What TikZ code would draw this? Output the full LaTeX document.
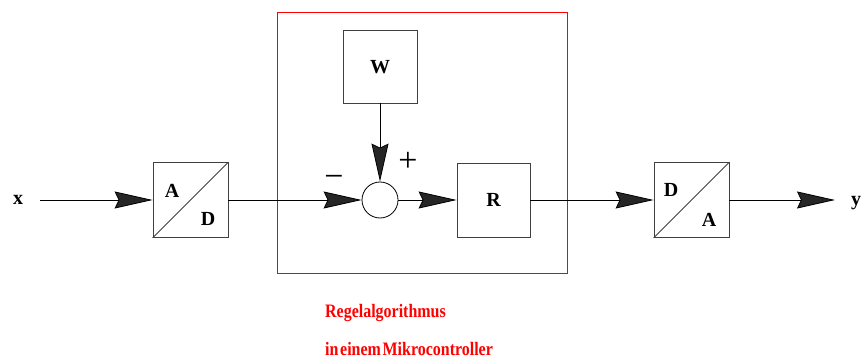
\documentclass[tikz,border=0pt]{standalone}
\usepackage{fontspec}
\setmainfont{Liberation Serif}
\usetikzlibrary{arrows.meta}
\begin{document}
\begin{tikzpicture}[x=1pt,y=-1pt,
  blk/.style={draw=black!75, line width=0.8pt, minimum width=75pt, minimum height=75pt, inner sep=0pt},
  sumpt/.style={circle, draw=black, line width=0.8pt, minimum size=36pt, inner sep=0pt},
  lbl/.style={font=\fontsize{20}{20}\selectfont\bfseries, inner sep=0pt},
  sgn/.style={font=\fontsize{34}{34}\selectfont, inner sep=0pt},
  wire/.style={line width=0.8pt, draw=black},
  arr/.style={wire, -{Stealth[length=38pt,width=17pt,inset=4pt,fill=black!85]}},
  note/.style={text=red, font=\fontsize{19}{19}\selectfont\bfseries, inner sep=0pt, anchor=base west}]
\useasboundingbox (0,0) rectangle (861,358);

% controller frame
\node[draw=red, line width=0.8pt, minimum width=290pt, minimum height=261pt, inner sep=0pt] (mc) at (422,142.5) {};

% blocks
\node[blk] (ad) at (190.5,200) {};
\draw[wire, draw=black!75] (ad.south west) -- (ad.north east);
\node[lbl] (adA) at (172,191) {A};
\node[lbl] (adD) at (208,219) {D};

\node[blk, minimum width=74pt, minimum height=73pt] (w) at (380,66.5) {};
\node[lbl] (wl) at (380,67) {W};

\node[sumpt] (s) at (380,200) {};

\node[blk, minimum width=73pt, minimum height=74pt] (r) at (493.5,200) {};
\node[lbl] (rl) at (493.5,200) {R};

\node[blk] (da) at (691.5,200) {};
\draw[wire, draw=black!75] (da.south west) -- (da.north east);
\node[lbl] (daD) at (671,190) {D};
\node[lbl] (daA) at (709,220) {A};

% signals
\node[lbl] (xl) at (18,200) {x};
\node[lbl] (yl) at (856,203) {y};
\coordinate (xin) at (40,200);
\coordinate (yout) at (835,200);

\node[sgn] (plus) at (408,162) {+};
\node[sgn] (minus) at (334,181) {−};

% connectors
\draw[arr] (xin) -- (ad.west);
\draw[arr] (ad.east) -- (s.west);
\draw[arr] (w.south) -- (s.north);
\draw[arr] (s.east) -- (r.west);
\draw[arr] (r.east) -- (da.west);
\draw[arr] (da.east) -- (yout);

% caption
\node[note] (n1) at (325,317) {\scalebox{0.84}[1]{Regelalgorithmus}};
\node[note] (n2) at (325,355) {\scalebox{0.84}[1]{in\kern2pt einem\kern2pt Mikrocontroller}};
\end{tikzpicture}
\end{document}
